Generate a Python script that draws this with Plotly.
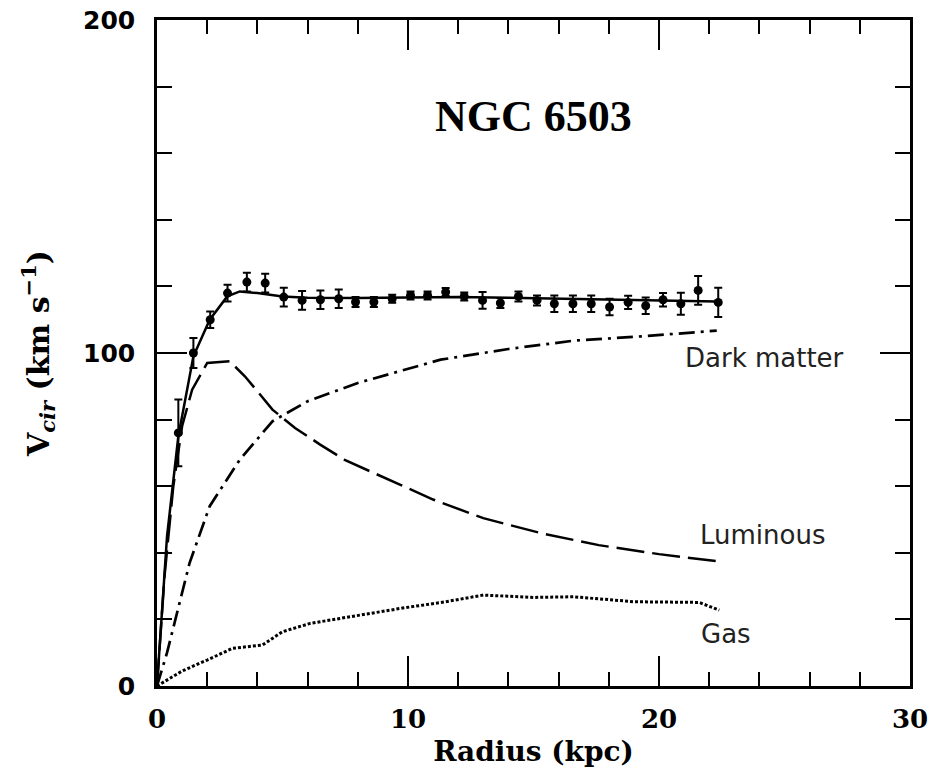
import plotly.graph_objects as go

# Observed rotation curve
r_obs = [0.85, 1.45, 2.12, 2.81, 3.58, 4.31, 5.05, 5.78, 6.51, 7.24, 7.91, 8.64, 9.37, 10.1,
         10.78, 11.5, 12.24, 12.97, 13.68, 14.4, 15.14, 15.83, 16.57, 17.3, 18.03, 18.77,
         19.47, 20.16, 20.87, 21.56, 22.36]
v_obs = [76, 100, 110, 118, 121.3, 121, 116.8, 115.8, 116, 116.3, 115.3, 115.3, 116.3, 117.3,
         117.3, 118.3, 117, 115.8, 115, 117, 115.8, 114.8, 114.8, 114.8, 113.8, 115.2,
         114.2, 116, 114.8, 118.8, 115.2]
v_err = [10, 4.5, 2.5, 2.5, 2.8, 2.8, 2.8, 2.8, 2.8, 2.8, 1.5, 1.5, 1.2, 1.2,
         1.2, 1.2, 1.2, 2.5, 1.5, 1.5, 1.5, 2.5, 2.5, 2.5, 2.5, 2.0,
         2.5, 2.0, 3.3, 4.3, 4.4]

# Model components
r_tot = [0, 0.4, 0.85, 1.45, 2.1, 2.8, 3.3, 4.0, 5.0, 6.0, 8.0, 10, 12, 14, 16, 18, 20, 22.3]
v_tot = [0, 45, 75, 99, 110, 117, 118.5, 118, 117, 116.6, 116.5, 116.6, 116.8, 116.6, 116.3,
         116, 115.8, 115.5]

r_lum = [0, 0.3, 0.65, 1.0, 1.4, 2.0, 2.9, 3.5, 4.0, 4.6, 5.5, 6.5, 7.5, 8.6, 9.7, 11.0,
         13.0, 15.3, 17.6, 20.0, 22.3]
v_lum = [0, 33, 60, 78, 89, 97, 97.5, 93, 88.5, 83, 77.5, 72.5, 67.8, 64, 60.4, 56,
         50.4, 45.9, 42.3, 39.6, 37.5]

r_dm = [0, 0.4, 1.3, 2.1, 3.3, 4.6, 6.0, 8.0, 11.3, 14.0, 16.6, 19.3, 22.3]
v_dm = [0, 10, 37, 54, 68, 79.5, 85.5, 91, 98, 101.2, 103.7, 105, 106.7]

r_gas = [0, 1.0, 2.0, 3.0, 4.2, 5.0, 6.1, 7.7, 9.7, 11.5, 13.0, 15.0, 16.6, 19.0, 21.6, 22.4]
v_gas = [0, 4.5, 7.8, 11.3, 12.3, 16.3, 18.8, 20.8, 23.3, 25.3, 27.3, 26.6, 26.8, 25.3, 25.1, 22.8]

labels = ["Dark matter", "Luminous", "Gas"]
label_x = [20.95, 21.55, 21.6]
label_y = [98.5, 45.3, 15.6]

x_ticks = [0, 10, 20, 30]
y_ticks = [0, 100, 200]

fig = go.Figure()
fig.add_trace(go.Scatter(x=r_tot, y=v_tot, mode="lines",
                         line=dict(color="black", width=2.5), showlegend=False))
fig.add_trace(go.Scatter(x=r_lum, y=v_lum, mode="lines",
                         line=dict(color="black", width=2.5, dash="28px,8px"), showlegend=False))
fig.add_trace(go.Scatter(x=r_dm, y=v_dm, mode="lines",
                         line=dict(color="black", width=2.7, dash="16px,6px,3px,6px"),
                         showlegend=False))
fig.add_trace(go.Scatter(x=r_gas, y=v_gas, mode="lines",
                         line=dict(color="black", width=3, dash="3px,2px"), showlegend=False))
fig.add_trace(go.Scatter(x=r_obs, y=v_obs, mode="markers",
                         marker=dict(color="black", size=9, symbol="circle"),
                         error_y=dict(type="data", array=v_err, color="black",
                                      thickness=2, width=4),
                         showlegend=False))

for t, lx, ly in zip(labels, label_x, label_y):
    fig.add_annotation(x=lx, y=ly, text=t, showarrow=False, xanchor="left", yanchor="middle",
                       font=dict(family="DejaVu Sans", size=26, color="#222"))

fig.add_annotation(x=0.5, y=0.855, xref="paper", yref="paper", text="NGC 6503",
                   showarrow=False, yanchor="middle",
                   font=dict(family="Liberation Serif", size=44, color="black", weight="bold"))

fig.update_xaxes(range=[0, 30], tickvals=x_ticks, ticks="inside", ticklen=30, tickwidth=2,
                 tickcolor="black", showline=True, linewidth=2.5, linecolor="black",
                 mirror="ticks", showgrid=False, zeroline=False, ticklabeloverflow="allow",
                 minor=dict(dtick=2, ticks="inside", ticklen=14, tickwidth=2, tickcolor="black",
                            showgrid=False),
                 tickfont=dict(family="DejaVu Serif", size=26, color="black", weight="bold"),
                 ticklabelstandoff=8,
                 title=dict(text="Radius (kpc)", standoff=9,
                            font=dict(family="DejaVu Serif", size=28, color="black",
                                      weight="bold")))
fig.update_yaxes(range=[0, 200], tickvals=y_ticks, ticks="inside", ticklen=30, tickwidth=2,
                 tickcolor="black", showline=True, linewidth=2.5, linecolor="black",
                 mirror="ticks", showgrid=False, zeroline=False, ticklabeloverflow="allow",
                 minor=dict(dtick=20, ticks="inside", ticklen=15, tickwidth=2, tickcolor="black",
                            showgrid=False),
                 tickfont=dict(family="DejaVu Sans", size=25, color="black", weight="bold"),
                 ticklabelstandoff=14,
                 title=dict(text="V<sub><i>cir</i></sub> (km s<sup>−1</sup>)", standoff=25,
                            font=dict(family="DejaVu Serif", size=30, color="black",
                                      weight="bold")))

fig.update_layout(width=933, height=774, autosize=False,
                  margin=dict(l=157, r=23, t=20, b=88, autoexpand=False),
                  plot_bgcolor="white", paper_bgcolor="white")

fig.write_html("out.html", config={"displayModeBar": False},
               post_script="document.body.style.margin='0px';")
